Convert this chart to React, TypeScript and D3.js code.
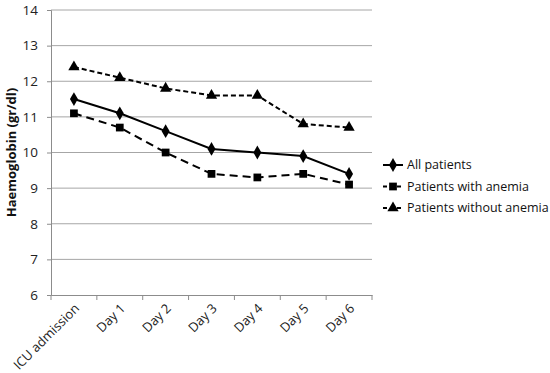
import { useRef, useEffect } from "react";
import * as d3 from "d3";

const WIDTH = 550;
const HEIGHT = 373;

const CATEGORIES = ["ICU admission", "Day 1", "Day 2", "Day 3", "Day 4", "Day 5", "Day 6"];
const ALL_PATIENTS = [11.5, 11.1, 10.6, 10.1, 10.0, 9.9, 9.4];
const WITH_ANEMIA = [11.1, 10.7, 10.0, 9.4, 9.3, 9.4, 9.1];
const WITHOUT_ANEMIA = [12.4, 12.1, 11.8, 11.6, 11.6, 10.8, 10.7];
const Y_TICKS = [6, 7, 8, 9, 10, 11, 12, 13, 14];

const SERIES = [
  { name: "All patients", values: ALL_PATIENTS, dash: null, symbol: d3.symbolDiamond, size: 55 },
  { name: "Patients with anemia", values: WITH_ANEMIA, dash: "8,5", symbol: d3.symbolSquare, size: 60 },
  { name: "Patients without anemia", values: WITHOUT_ANEMIA, dash: "5,3", symbol: d3.symbolTriangle, size: 55 },
];

const FONT = "'Open Sans', 'Liberation Sans', sans-serif";

export default function App() {
  const svgRef = useRef<SVGSVGElement>(null);

  useEffect(() => {
    const svg = d3.select(svgRef.current);
    svg.selectAll("*").remove();

    const left = 51, right = 372, top = 10, bottom = 295;

    const x = d3.scaleBand<string>().domain(CATEGORIES).range([left, right]);
    const y = d3.scaleLinear().domain([6, 14]).range([bottom, top]);

    // gridlines
    svg.append("g")
      .selectAll("line")
      .data(Y_TICKS.filter((t) => t > 6))
      .enter()
      .append("line")
      .attr("x1", left)
      .attr("x2", right)
      .attr("y1", (d) => y(d))
      .attr("y2", (d) => y(d))
      .attr("stroke", "#a6a6a6")
      .attr("stroke-width", 1);

    // y axis
    const yAxis = svg.append("g")
      .attr("transform", `translate(${left},0)`)
      .call(d3.axisLeft(y).tickValues(Y_TICKS).tickSize(4).tickPadding(9).tickFormat(d3.format("d")));
    yAxis.select(".domain").attr("stroke", "#8c8c8c");
    yAxis.selectAll(".tick line").attr("stroke", "#8c8c8c");
    yAxis.selectAll(".tick text")
      .attr("font-family", FONT)
      .attr("font-size", 13.5)
      .attr("fill", "#222");

    // x axis
    const xAxis = svg.append("g")
      .attr("transform", `translate(0,${bottom})`)
      .call(d3.axisBottom(x).tickSize(0).tickFormat(() => ""));
    xAxis.select(".domain").attr("stroke", "#8c8c8c");
    xAxis.selectAll(".tick").remove();

    const bounds = [...CATEGORIES.map((c) => x(c) ?? 0), right];
    svg.append("g")
      .selectAll("line")
      .data(bounds)
      .enter()
      .append("line")
      .attr("x1", (d) => d)
      .attr("x2", (d) => d)
      .attr("y1", bottom)
      .attr("y2", bottom + 5)
      .attr("stroke", "#8c8c8c");

    svg.append("g")
      .selectAll("text")
      .data(CATEGORIES)
      .enter()
      .append("text")
      .attr("transform", (d) => `translate(${(x(d) ?? 0) + x.bandwidth() / 2 + 3},${bottom + 11}) rotate(-45)`)
      .attr("text-anchor", "end")
      .attr("dy", "0.35em")
      .attr("font-family", FONT)
      .attr("font-size", 13)
      .attr("fill", "#222")
      .text((d) => d);

    // y title
    svg.append("text")
      .attr("transform", `translate(16,${(top + bottom) / 2}) rotate(-90)`)
      .attr("text-anchor", "middle")
      .attr("font-family", FONT)
      .attr("font-size", 13)
      .attr("font-weight", 700)
      .attr("fill", "#111")
      .text("Haemoglobin (gr/dl)");

    const cx = (i: number) => (x(CATEGORIES[i]) ?? 0) + x.bandwidth() / 2;

    // series
    SERIES.forEach((s) => {
      const line = d3.line<number>().x((_, i) => cx(i)).y((d) => y(d));
      svg.append("path")
        .datum(s.values)
        .attr("d", line)
        .attr("fill", "none")
        .attr("stroke", "#000")
        .attr("stroke-width", 2)
        .attr("stroke-dasharray", s.dash);

      svg.append("g")
        .selectAll("path")
        .data(s.values)
        .enter()
        .append("path")
        .attr("transform", (d, i) => `translate(${cx(i)},${y(d)})`)
        .attr("d", d3.symbol().type(s.symbol).size(s.size)() ?? "")
        .attr("fill", "#000");
    });

    // legend
    const legend = svg.append("g").attr("transform", "translate(383,165)");
    SERIES.forEach((s, i) => {
      const g = legend.append("g").attr("transform", `translate(0,${i * 21.5})`);
      g.append("line")
        .attr("x1", 0)
        .attr("x2", 20)
        .attr("stroke", "#000")
        .attr("stroke-width", 2)
        .attr("stroke-dasharray", s.dash ? "4,3" : null);
      g.append("path")
        .attr("transform", "translate(10,0)")
        .attr("d", d3.symbol().type(s.symbol).size(s.size)() ?? "")
        .attr("fill", "#000");
      g.append("text")
        .attr("x", 24)
        .attr("dy", "0.35em")
        .attr("font-family", FONT)
        .attr("font-size", 12.5)
        .attr("fill", "#111")
        .text(s.name);
    });
  }, []);

  return (
    <svg ref={svgRef} width={WIDTH} height={HEIGHT} style={{ position: "absolute", left: 0, top: 0, background: "#fff" }} />
  );
}
